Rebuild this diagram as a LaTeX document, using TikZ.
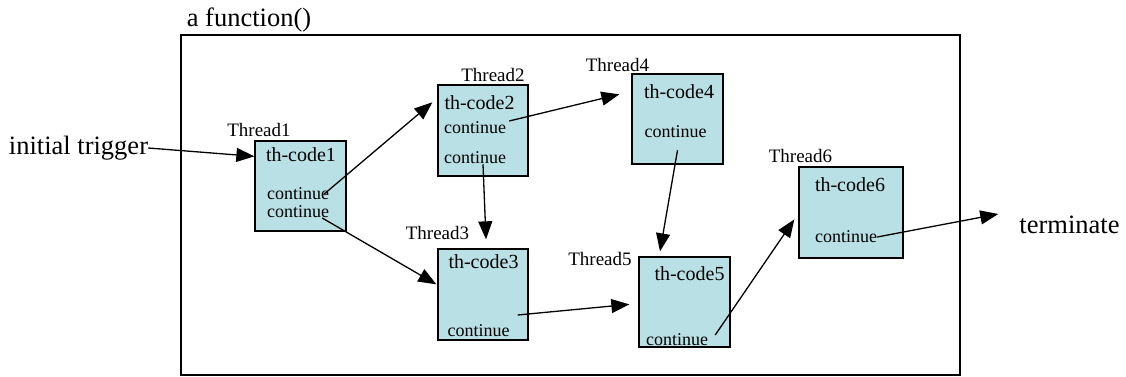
\documentclass[tikz,border=0pt]{standalone}
\usepackage{fontspec}
\setmainfont{Liberation Serif}
\usetikzlibrary{positioning, arrows.meta, calc}
\definecolor{thfill}{HTML}{B9E0E4}

\begin{document}
\begin{tikzpicture}[
  x=1pt, y=-1pt,
  thbox/.style={draw, line width=1.3pt, fill=thfill, minimum width=#1, minimum height=90pt,
                inner sep=0pt},
  thbox/.default=91pt,
  code/.style={inner sep=0pt, font=\fontsize{20}{22}\selectfont},
  cont/.style={inner sep=0pt, font=\fontsize{18}{20}\selectfont},
  thlbl/.style={inner sep=0pt, font=\fontsize{19}{21}\selectfont},
  big/.style={inner sep=0pt, font=\fontsize{26.5}{28}\selectfont},
  arr/.style={line width=1.3pt, -{Triangle[length=18pt, width=14pt]}}
]
  \useasboundingbox (0,0) rectangle (1126,377);

  % the function frame
  \node[draw, line width=1.3pt, minimum width=779pt, minimum height=340pt, inner sep=0pt]
    (frame) at (570.5,205) {};
  \node[big] (fname) at (249,20) {a function()};

  % Thread1
  \node[thbox] (th1) at (300.5,186) {};
  \node[thlbl] (t1) at (259,130) {Thread1};
  \node[code] (k1) at (301,155) {th-code1};
  \node[cont] (c1a) at (298,194) {continue};
  \node[cont] (c1b) at (298,212) {continue};

  % Thread2
  \node[thbox=90pt, minimum height=91pt] (th2) at (483,130.5) {};
  \node[thlbl] (t2) at (493,75) {Thread2};
  \node[code] (k2) at (479.5,103) {th-code2};
  \node[cont] (c2a) at (475,128) {continue};
  \node[cont] (c2b) at (475,158) {continue};

  % Thread3
  \node[thbox=90pt, minimum height=91pt] (th3) at (483,294.5) {};
  \node[thlbl] (t3) at (437.5,233) {Thread3};
  \node[code] (k3) at (483.5,262) {th-code3};
  \node[cont] (c3) at (478.5,331) {continue};

  % Thread4
  \node[thbox] (th4) at (677.5,119) {};
  \node[thlbl] (t4) at (617.5,65) {Thread4};
  \node[code] (k4) at (679,92) {th-code4};
  \node[cont] (c4) at (675.5,132) {continue};

  % Thread5
  \node[thbox] (th5) at (684.5,302) {};
  \node[thlbl] (t5) at (600,259) {Thread5};
  \node[code] (k5) at (689.5,274) {th-code5};
  \node[cont] (c5) at (677,340) {continue};

  % Thread6
  \node[thbox=104pt, minimum height=91pt] (th6) at (851,212.5) {};
  \node[thlbl] (t6) at (800.5,156) {Thread6};
  \node[code] (k6) at (850,185) {th-code6};
  \node[cont] (c6) at (846,237) {continue};

  % outside ends
  \node[big] (trig) at (78.5,148) {initial trigger};
  \node[big] (term) at (1069.5,225) {terminate};

  % hand-offs
  \draw[arr] (trig.east) -- ($(th1.north west)+(0,16)$);
  \draw[arr] ($(c1a.east)+(-5,0)$) -- ($(th2.north west)+(-5,18)$);
  \draw[arr] ($(c1b.east)+(-7,6)$) -- ($(th3.north west)+(-1,36)$);
  \draw[arr] ($(c2a.east)+(3,-7)$) -- ($(th4.north west)+(-12,21)$);
  \draw[arr] ($(c2b.south)+(8,0)$) -- ($(th3.north)+(3,-9)$);
  \draw[arr] ($(c4.south)+(2,12)$) -- ($(th5.north)+(-24.5,-5)$);
  \draw[arr] ($(c3.east)+(8,-16)$) -- ($(th5.north west)+(-9,48)$);
  \draw[arr] ($(c5.east)+(7,-5)$) -- ($(th6.north west)+(-4,53)$);
  \draw[arr] (c6.east) -- ($(term.west)+(-21,-11)$);
\end{tikzpicture}
\end{document}
